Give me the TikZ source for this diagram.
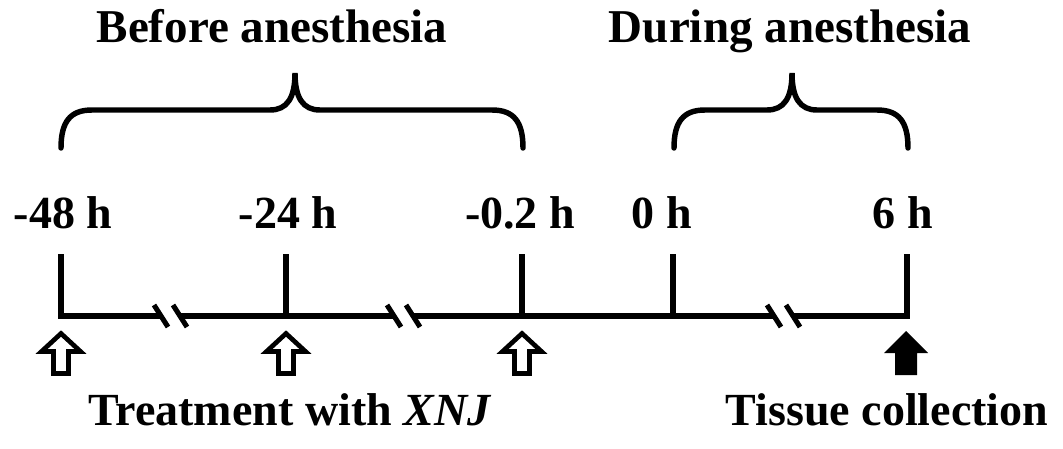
\documentclass[tikz,border=0pt]{standalone}
\usepackage{fontspec}
\setmainfont{Liberation Serif}
\begin{document}
\begin{tikzpicture}[x=0.75pt,y=-0.75pt,
  thick line/.style={line width=4.3pt},
  bracestyle/.style={line width=4.1pt,line cap=round},
  lbl/.style={font=\fontsize{34.5}{38}\selectfont\bfseries,inner sep=0pt,anchor=base},
  ttl/.style={font=\fontsize{35.3}{38}\selectfont\bfseries,inner sep=0pt,anchor=base},
  btm/.style={font=\fontsize{34.5}{38}\selectfont\bfseries,inner sep=0pt,anchor=base},
  openarrow/.style={line width=3.5pt,line join=miter,fill=white},
  fillarrow/.style={fill=black}]
\path[use as bounding box] (0,0) rectangle (1063,449);
% titles
\node[ttl] (before) at (272,43) {Before anesthesia};
\node[ttl] (during) at (790,43) {During anesthesia};
% braces
\draw[bracestyle] (61,148) .. controls (61,122) and (70,110) .. (92,110) -- (270,110)
  .. controls (287,110) and (295,98) .. (295,73)
  .. controls (295,98) and (303,110) .. (320,110) -- (492,110)
  .. controls (514,110) and (523,122) .. (523,148);
\draw[bracestyle] (674,148) .. controls (674,122) and (683,110) .. (705,110) -- (767,110)
  .. controls (784,110) and (792,98) .. (792,73)
  .. controls (792,98) and (800,110) .. (817,110) -- (877,110)
  .. controls (899,110) and (908,122) .. (908,148);
% time labels
\node[lbl] (t48) at (63,228) {-48 h};
\node[lbl] (t24) at (288,228) {-24 h};
\node[lbl] (t02) at (520,228) {-0.2 h};
\node[lbl] (t0) at (662,228) {0 h};
\node[lbl] (t6) at (903,228) {6 h};
% tick coordinates
\coordinate (a) at (61,316); \coordinate (at) at (61,254);
\coordinate (b) at (286,316); \coordinate (bt) at (286,254);
\coordinate (c) at (522,316); \coordinate (ct) at (522,254);
\coordinate (d) at (673,316); \coordinate (dt) at (673,254);
\coordinate (e) at (907,316); \coordinate (et) at (907,254);
% break points
\coordinate (b1l) at (161,316); \coordinate (b1r) at (180,316);
\coordinate (b2l) at (394,316); \coordinate (b2r) at (413,316);
\coordinate (b3l) at (774,316); \coordinate (b3r) at (793,316);
% timeline
\draw[thick line,line join=miter] (at) -- (a) -- (b1l);
\draw[thick line] (b1r) -- (b) -- (b2l);
\draw[thick line] (bt) -- (b);
\draw[thick line] (b2r) -- (c) -- (d) -- (b3l);
\draw[thick line] (ct) -- (c);
\draw[thick line] (dt) -- (d);
\draw[thick line,line join=miter] (b3r) -- (e) -- (et);
% break marks
\foreach \p in {b1l,b1r,b2l,b2r,b3l,b3r}
  \draw[line width=3.8pt] ([shift={(-7,-11)}]\p) -- ([shift={(7,11)}]\p);
% arrows
\foreach \x in {61,286,522}
  \draw[openarrow] (\x,333.5) -- (\x+19.5,351.5) -- (\x+7.5,351.5) -- (\x+7.5,373.5)
    -- (\x-7.5,373.5) -- (\x-7.5,351.5) -- (\x-19.5,351.5) -- cycle;
\fill[fillarrow] (906,331) -- (928,353) -- (917,353) -- (917,375) -- (895,375)
  -- (895,353) -- (884,353) -- cycle;
% bottom labels
\node[btm] (treat) at (290,425) {Treatment with \textit{XNJ}};
\node[btm] (tissue) at (887,425) {Tissue collection};
\end{tikzpicture}
\end{document}
